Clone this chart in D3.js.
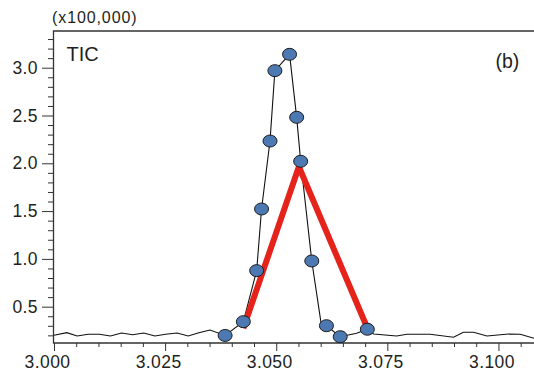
<!DOCTYPE html>
<html>
<head>
  <meta charset="utf-8">
  <title>TIC peak</title>
  <script src="https://cdn.jsdelivr.net/npm/d3@7"></script>
  <style>
    body { margin: 0; background: #fff; }
    svg { display: block; }
    text { font-family: "Liberation Sans", Arial, Helvetica, sans-serif; fill: #231f20; }
    .tick line { stroke: #333; }
  </style>
</head>
<body>
  <div id="chart"></div>
  <script>
    // TIC trace (time in min, intensity x100,000)
    const traceTime = [3.0000, 3.0029, 3.0052, 3.0077, 3.0102, 3.0127, 3.0152, 3.0177, 3.0202, 3.0227,
      3.0251, 3.0277, 3.0302, 3.0326, 3.0351, 3.0385, 3.0426, 3.0456, 3.0467, 3.0486, 3.0497, 3.0530,
      3.0546, 3.0555, 3.0580, 3.0601, 3.0613, 3.0644, 3.0681, 3.0705, 3.0719, 3.0771, 3.0794, 3.0846,
      3.0899, 3.0921, 3.0944, 3.0974, 3.1023, 3.1049, 3.1080];
    const traceValue = [0.201, 0.228, 0.194, 0.211, 0.211, 0.194, 0.225, 0.207, 0.225, 0.194,
      0.211, 0.225, 0.194, 0.228, 0.256, 0.199, 0.343, 0.877, 1.522, 2.233, 2.969, 3.140,
      2.481, 2.021, 0.978, 0.326, 0.301, 0.186, 0.222, 0.264, 0.214, 0.194, 0.211, 0.211,
      0.180, 0.232, 0.232, 0.194, 0.214, 0.211, 0.169];

    // sampled scan points (blue)
    const scanTime = [3.0385, 3.0426, 3.0456, 3.0467, 3.0486, 3.0497, 3.0530, 3.0546, 3.0555, 3.0580, 3.0613, 3.0644, 3.0705];
    const scanValue = [0.199, 0.343, 0.877, 1.522, 2.233, 2.969, 3.140, 2.481, 2.021, 0.978, 0.301, 0.186, 0.264];

    // triangle approximation (red)
    const triTime = [3.0426, 3.0551, 3.0710];
    const triValue = [0.274, 1.964, 0.222];

    const xMajor = [3.000, 3.025, 3.050, 3.075, 3.100];
    const xLabels = ['3.000', '3.025', '3.050', '3.075', '3.100'];
    const yMajor = [0.5, 1.0, 1.5, 2.0, 2.5, 3.0];
    const yLabels = ['0.5', '1.0', '1.5', '2.0', '2.5', '3.0'];

    const width = 534, height = 374;
    const plotL = 54, plotR = 534, plotT = 31, plotB = 343;

    const x = d3.scaleLinear().domain([3.0, 3.108]).range([plotL, plotR]);
    const y = d3.scaleLinear().domain([0.12, 3.384]).range([plotB, plotT]);

    const svg = d3.select('#chart').append('svg')
      .attr('width', width)
      .attr('height', height);

    // minor ticks
    const xMinor = d3.range(0, 22).map(i => 3.0 + i * 0.005).filter(v => xMajor.every(m => Math.abs(m - v) > 1e-6));
    const yMinor = d3.range(2, 34).map(i => i / 10).filter(v => yMajor.every(m => Math.abs(m - v) > 1e-6));

    const styleLabels = g => g.selectAll('.tick text')
      .style('font-family', '"Liberation Sans", Arial, sans-serif')
      .style('font-size', '17.5px')
      .style('letter-spacing', '0.4px')
      .attr('fill', '#231f20');

    svg.append('g')
      .attr('transform', `translate(0,${plotB})`)
      .call(d3.axisBottom(x).tickValues(xMinor).tickSize(4).tickFormat(''))
      .call(g => g.select('.domain').remove());
    svg.append('g')
      .attr('transform', `translate(0,${plotB})`)
      .call(d3.axisBottom(x).tickValues(xMajor).tickSize(8).tickPadding(5)
        .tickFormat((d, i) => xLabels[i]))
      .call(g => g.select('.domain').remove())
      .call(styleLabels)
      .call(g => g.selectAll('.tick text').attr('dx', -7));

    svg.append('g')
      .attr('transform', `translate(${plotL},0)`)
      .call(d3.axisLeft(y).tickValues(yMinor).tickSize(6).tickFormat(''))
      .call(g => g.select('.domain').remove());
    svg.append('g')
      .attr('transform', `translate(${plotL},0)`)
      .call(d3.axisLeft(y).tickValues(yMajor).tickSize(12).tickPadding(4)
        .tickFormat((d, i) => yLabels[i]))
      .call(g => g.select('.domain').remove())
      .call(styleLabels);

    // frame: left, bottom, top
    svg.append('path')
      .attr('d', `M${plotR},${plotT}H${plotL - 0.5}V${plotB}H${plotR}`)
      .attr('fill', 'none')
      .attr('stroke', '#333')
      .attr('stroke-width', 1.3);

    const trace = traceTime.map((t, i) => [t, traceValue[i]]);
    svg.append('path')
      .datum(trace)
      .attr('fill', 'none')
      .attr('stroke', '#111')
      .attr('stroke-width', 1.1)
      .attr('d', d3.line().x(d => x(d[0])).y(d => y(d[1])));

    const tri = triTime.map((t, i) => [t, triValue[i]]);
    svg.append('path')
      .datum(tri)
      .attr('fill', 'none')
      .attr('stroke', '#e5231b')
      .attr('stroke-width', 6)
      .attr('stroke-linejoin', 'miter')
      .attr('d', d3.line().x(d => x(d[0])).y(d => y(d[1])));

    svg.selectAll('ellipse.scan')
      .data(scanTime.map((t, i) => [t, scanValue[i]]))
      .enter()
      .append('ellipse')
      .attr('class', 'scan')
      .attr('cx', d => x(d[0]))
      .attr('cy', d => y(d[1]))
      .attr('rx', 7)
      .attr('ry', 6)
      .attr('fill', '#4d79b3')
      .attr('stroke', '#1c1c1c')
      .attr('stroke-width', 1);

    svg.append('text')
      .attr('x', 52)
      .attr('y', 22.5)
      .style('font-size', '16px')
      .style('letter-spacing', '0.9px')
      .text('(x100,000)');

    svg.append('text')
      .attr('x', 66.5)
      .attr('y', 61)
      .style('font-size', '20px')
      .text('TIC');

    svg.append('text')
      .attr('x', 495.5)
      .attr('y', 68)
      .style('font-size', '19.5px')
      .text('(b)');
  </script>
</body>
</html>
